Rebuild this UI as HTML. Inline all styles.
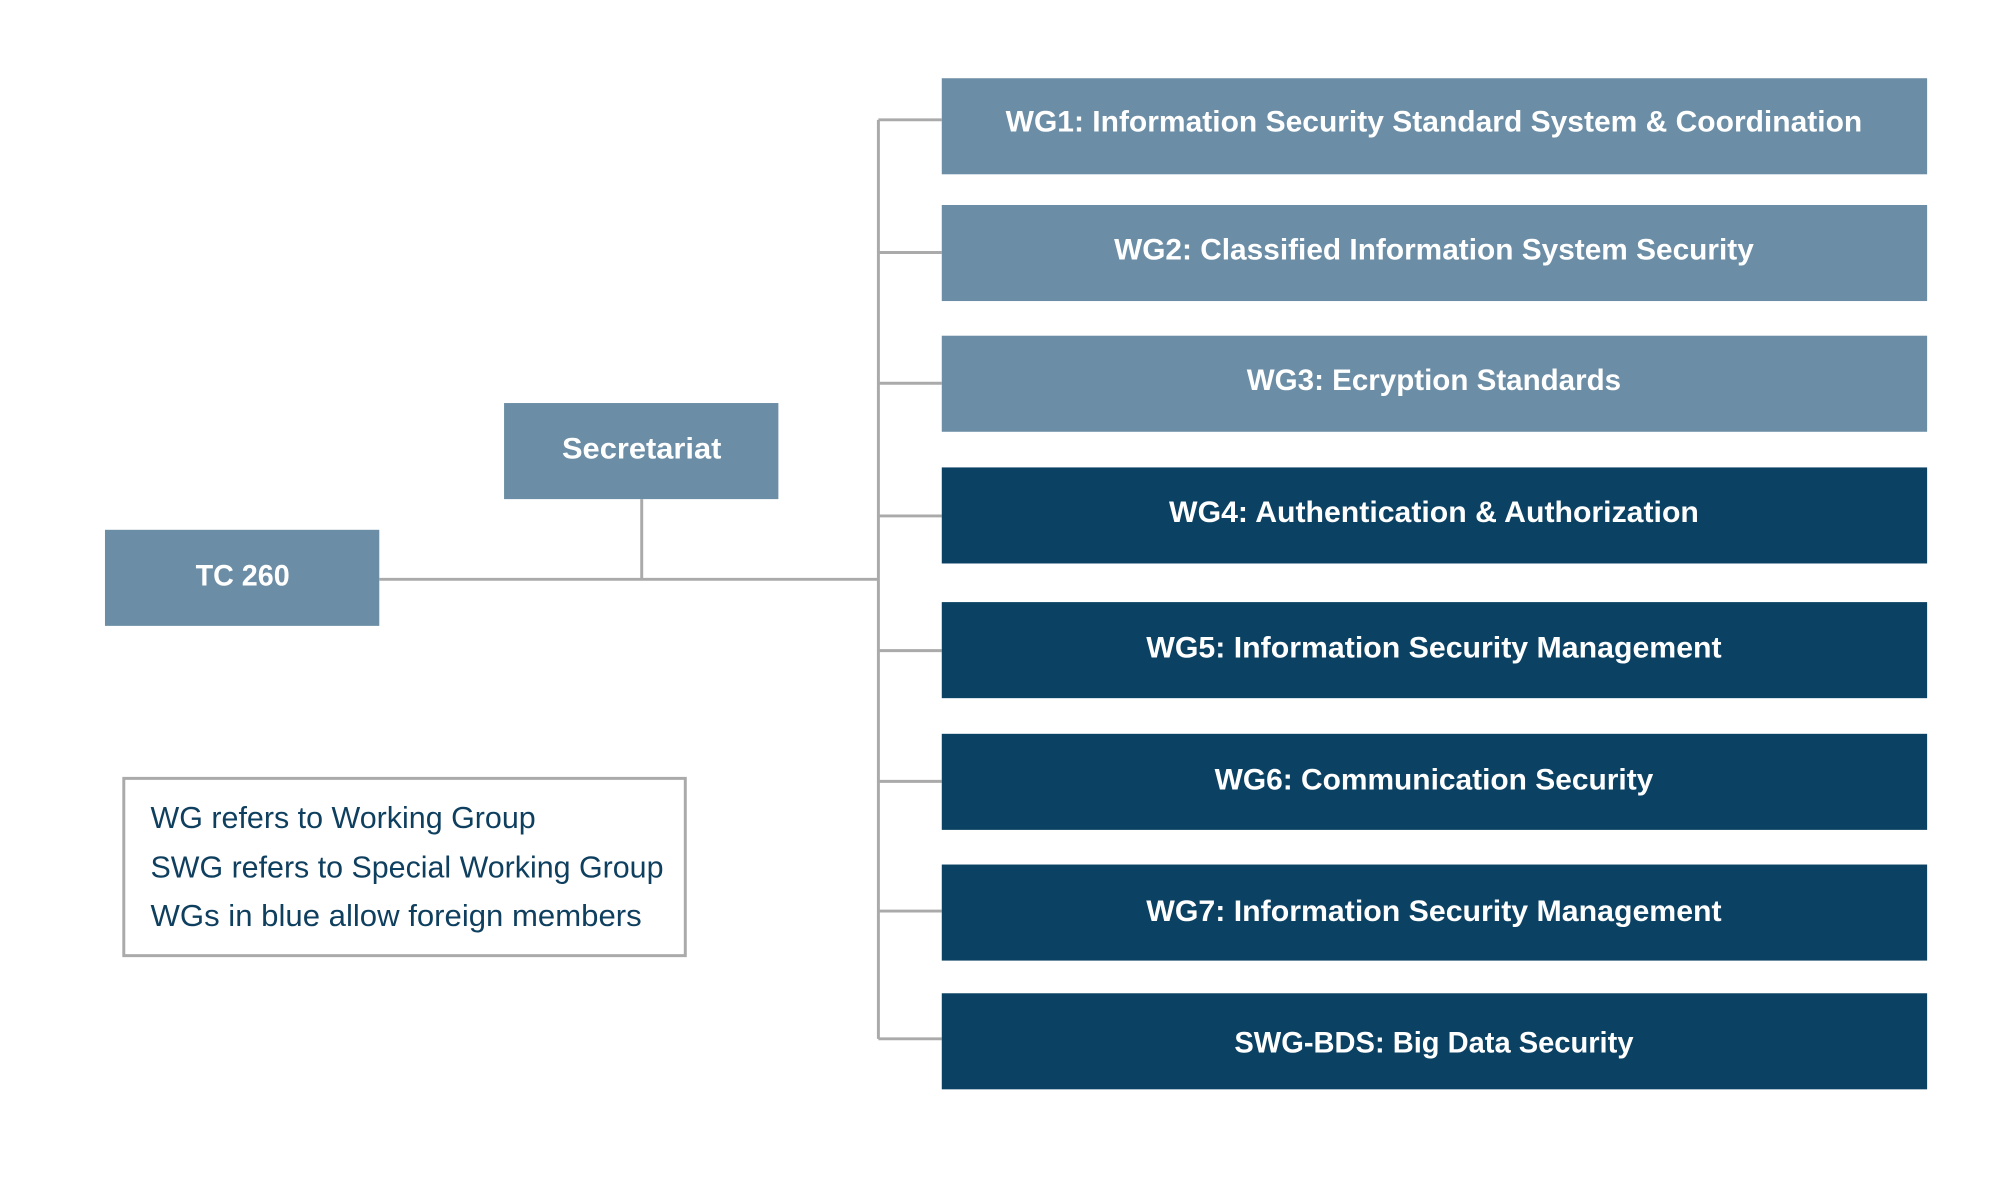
<!DOCTYPE html>
<html><head><style>html,body{margin:0;padding:0;background:#fff}</style></head><body>
<svg width="2000" height="1182" viewBox="0 0 2000 1182" xmlns="http://www.w3.org/2000/svg" font-family="Liberation Sans, sans-serif">
<g transform="scale(0.9903)">
<g stroke="#aaaaaa" stroke-width="3" fill="none">
<line x1="887" y1="121" x2="887" y2="1049"/>
<line x1="887" y1="121" x2="951" y2="121"/>
<line x1="887" y1="255" x2="951" y2="255"/>
<line x1="887" y1="387" x2="951" y2="387"/>
<line x1="887" y1="521" x2="951" y2="521"/>
<line x1="887" y1="657" x2="951" y2="657"/>
<line x1="887" y1="789" x2="951" y2="789"/>
<line x1="887" y1="920" x2="951" y2="920"/>
<line x1="887" y1="1049" x2="951" y2="1049"/>
<line x1="383" y1="585" x2="887" y2="585"/>
<line x1="648" y1="504" x2="648" y2="585"/>
<rect x="125" y="786" width="567" height="179"/>
</g>
<g fill="#6b8da5">
<rect x="106" y="535" width="277" height="97"/>
<rect x="509" y="407" width="277" height="97"/>
<rect x="951" y="79" width="995" height="97"/>
<rect x="951" y="207" width="995" height="97"/>
<rect x="951" y="339" width="995" height="97"/>
</g>
<g fill="#0b4163">
<rect x="951" y="472" width="995" height="97"/>
<rect x="951" y="608" width="995" height="97"/>
<rect x="951" y="741" width="995" height="97"/>
<rect x="951" y="873" width="995" height="97"/>
<rect x="951" y="1003" width="995" height="97"/>
</g>
<g fill="#fff" font-weight="bold" font-size="30" text-anchor="middle">
<text x="245" y="591" textLength="95" lengthAdjust="spacingAndGlyphs">TC 260</text>
<text x="648" y="463" textLength="161" lengthAdjust="spacingAndGlyphs">Secretariat</text>
<text x="1448" y="133" textLength="865" lengthAdjust="spacingAndGlyphs">WG1: Information Security Standard System &amp; Coordination</text>
<text x="1448" y="262" textLength="646" lengthAdjust="spacingAndGlyphs">WG2: Classified Information System Security</text>
<text x="1448" y="394" textLength="378" lengthAdjust="spacingAndGlyphs">WG3: Ecryption Standards</text>
<text x="1448" y="527" textLength="535" lengthAdjust="spacingAndGlyphs">WG4: Authentication &amp; Authorization</text>
<text x="1448" y="664" textLength="581" lengthAdjust="spacingAndGlyphs">WG5: Information Security Management</text>
<text x="1448" y="797" textLength="443" lengthAdjust="spacingAndGlyphs">WG6: Communication Security</text>
<text x="1448" y="930" textLength="581" lengthAdjust="spacingAndGlyphs">WG7: Information Security Management</text>
<text x="1448" y="1063" textLength="403" lengthAdjust="spacingAndGlyphs">SWG-BDS: Big Data Security</text>
</g>
<g fill="#0f3f5f" font-size="31">
<text x="152" y="836" textLength="389" lengthAdjust="spacingAndGlyphs">WG refers to Working Group</text>
<text x="152" y="886" textLength="518" lengthAdjust="spacingAndGlyphs">SWG refers to Special Working Group</text>
<text x="152" y="935" textLength="496" lengthAdjust="spacingAndGlyphs">WGs in blue allow foreign members</text>
</g>
</g>
</svg>
</body></html>
